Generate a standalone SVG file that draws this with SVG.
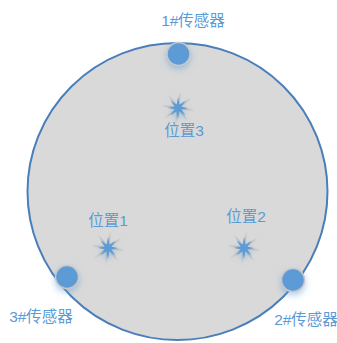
<svg xmlns="http://www.w3.org/2000/svg" xmlns:xlink="http://www.w3.org/1999/xlink" width="337" height="343" viewBox="0 0 337 343">
<style>
  .lbl { font-family: "Liberation Sans", "Noto Sans CJK SC", sans-serif; font-size: 15.5px; fill: #5b9bd5; text-anchor: middle; }
  .sensor { fill: #5b9bd5; stroke: #c8c8c8; stroke-width: 1.5; }
  .disk { fill: #d9d9d9; stroke: #4a7ebb; stroke-width: 2; }
</style>
<defs>
  <filter id="glow" x="-80%" y="-80%" width="260%" height="260%">
    <feDropShadow dx="0" dy="3" stdDeviation="3" flood-color="#5b9bd5" flood-opacity="0.5"/>
  </filter>
  <filter id="soft" x="-50%" y="-50%" width="200%" height="200%">
    <feGaussianBlur stdDeviation="0.7"/>
  </filter>
  <g id="star">
    <polygon points="0,-17 1.15,-2.77 12.02,-12.02 2.77,-1.15 17,0 2.77,1.15 12.02,12.02 1.15,2.77 0,17 -1.15,2.77 -12.02,12.02 -2.77,1.15 -17,0 -2.77,-1.15 -12.02,-12.02 -1.15,-2.77" fill="#acacac" opacity="0.85" filter="url(#soft)" transform="rotate(8)"/>
    <polygon points="0,-11 1.34,-3.23 7.5,-7.5 3.23,-1.34 10,0 3.23,1.34 7.5,7.5 1.34,3.23 0,11 -1.34,3.23 -7.5,7.5 -3.23,1.34 -10,0 -3.23,-1.34 -7.5,-7.5 -1.34,-3.23" fill="#5b9bd5" filter="url(#glow)"/>
  </g>
</defs>
<g id="disk">
  <ellipse class="disk" cx="177.5" cy="191.5" rx="150" ry="148.5"/>
</g>
<g id="sensor1">
  <circle class="sensor" cx="178.5" cy="54" r="11.5" filter="url(#glow)"/>
  <text class="lbl" x="193" y="26">1#传感器</text>
</g>
<g id="sensor2">
  <circle class="sensor" cx="293" cy="280" r="11.5" filter="url(#glow)"/>
  <text class="lbl" x="306" y="325">2#传感器</text>
</g>
<g id="sensor3">
  <circle class="sensor" cx="67" cy="277" r="11.5" filter="url(#glow)"/>
  <text class="lbl" x="41" y="322">3#传感器</text>
</g>
<g id="pos3">
  <use xlink:href="#star" x="178" y="108"/>
  <text class="lbl" x="184" y="136">位置3</text>
</g>
<g id="pos1">
  <use xlink:href="#star" x="108" y="248"/>
  <text class="lbl" x="108" y="226">位置1</text>
</g>
<g id="pos2">
  <use xlink:href="#star" x="244" y="248"/>
  <text class="lbl" x="246" y="222">位置2</text>
</g>
<g id="connectors"></g>
</svg>
